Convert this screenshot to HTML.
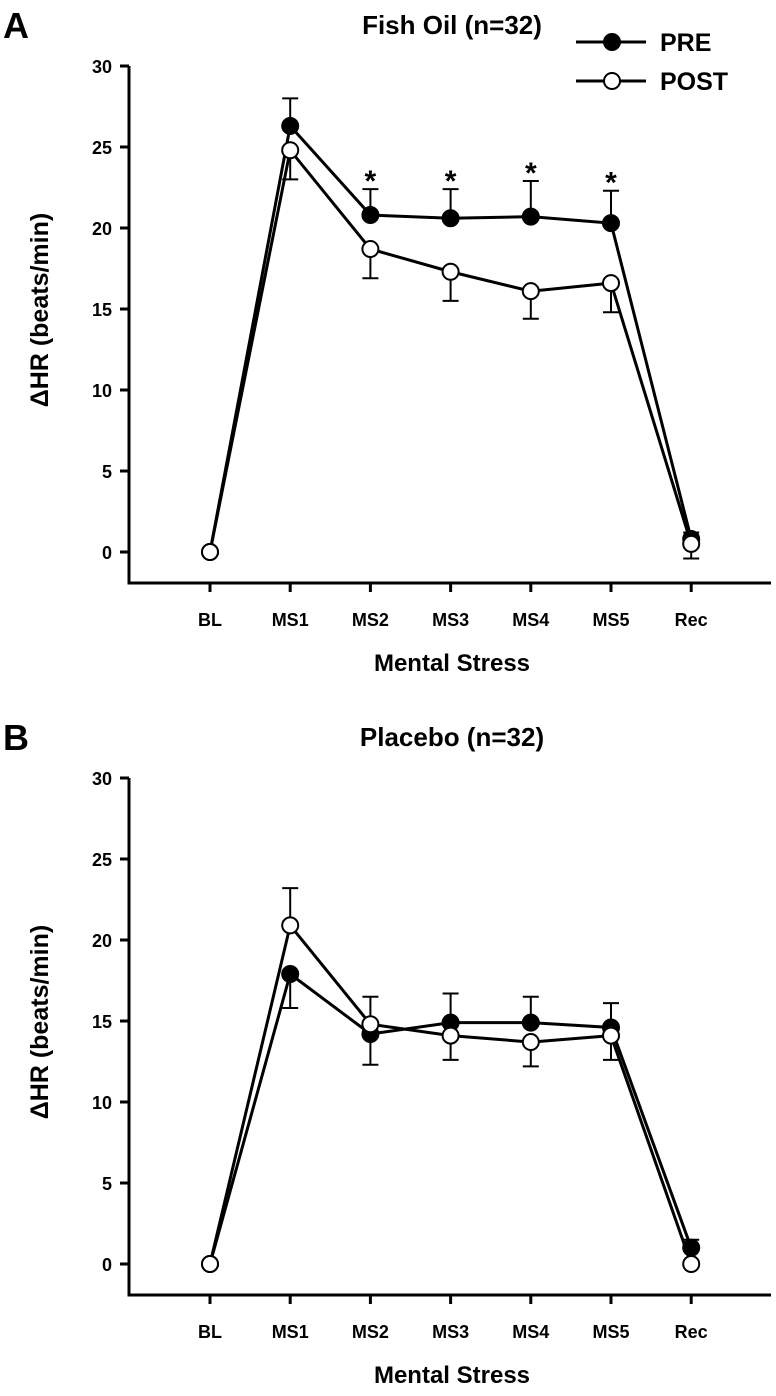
<!DOCTYPE html>
<html><head><meta charset="utf-8"><style>
body{margin:0;background:#fff}
svg{display:block;font-family:"Liberation Sans",Arial,sans-serif;font-weight:bold}
</style></head><body>
<svg id="chart" width="776" height="1396" viewBox="0 0 776 1396"></svg>
<script>
const categories=["BL","MS1","MS2","MS3","MS4","MS5","Rec"];
const yTicks=[0,5,10,15,20,25,30];
const fishPre=[0,26.3,20.8,20.6,20.7,20.3,0.8];
const fishPreErr=[0,1.7,1.6,1.8,2.2,2.0,0.4];
const fishPreDir=[1,1,1,1,1,1,1];
const fishPost=[0,24.8,18.7,17.3,16.1,16.6,0.5];
const fishPostErr=[0,1.8,1.8,1.8,1.7,1.8,0.9];
const fishPostDir=[-1,-1,-1,-1,-1,-1,-1];
const fishStars=[0,0,1,1,1,1,0];
const placPre=[0,17.9,14.2,14.9,14.9,14.6,1.0];
const placPreErr=[0,2.1,1.9,1.8,1.6,1.5,0.5];
const placPreDir=[1,-1,-1,1,1,1,1];
const placPost=[0,20.9,14.8,14.1,13.7,14.1,0.0];
const placPostErr=[0,2.3,1.7,1.5,1.5,1.5,0];
const placPostDir=[-1,1,1,-1,-1,-1,-1];
const placStars=[0,0,0,0,0,0,0];

const svg=document.getElementById('chart');
const NS='http://www.w3.org/2000/svg';
function mk(tag,attrs,parent){const e=document.createElementNS(NS,tag);for(const k in attrs)e.setAttribute(k,attrs[k]);(parent||svg).appendChild(e);return e;}
function panel(off,letter,title,pre,preErr,preDir,post,postErr,postDir,stars,legend){
  const g=mk('g',{});
  
  
  const x=i=>210+i*80.2;
  const y=v=>off+552-v*16.2;
  let t=mk('text',{x:3,y:off+38,'font-size':36},g);t.textContent=letter;
  
  t=mk('text',{x:452,y:off+34,'font-size':26,'text-anchor':'middle'},g);t.textContent=title;
  
  const ax=mk('path',{d:`M129 ${off+66}V${off+583}H771`,stroke:'#000','stroke-width':3,fill:'none'},g);
  
  yTicks.forEach(v=>{
    mk('line',{x1:120,x2:129,y1:y(v),y2:y(v),stroke:'#000','stroke-width':3},g);
    const l=mk('text',{x:112,y:y(v)+7,'font-size':18,'text-anchor':'end'},g);l.textContent=v;
    
  });
  categories.forEach((c,i)=>{
    mk('line',{x1:x(i),x2:x(i),y1:off+583,y2:off+592,stroke:'#000','stroke-width':3},g);
    const l=mk('text',{x:x(i),y:off+626,'font-size':18,'text-anchor':'middle'},g);l.textContent=c;
    
  });
  t=mk('text',{x:452,y:off+671,'font-size':24,'text-anchor':'middle'},g);t.textContent='Mental Stress';
  
  t=mk('text',{x:0,y:0,'font-size':25,'text-anchor':'middle',transform:`translate(48 ${off+310}) rotate(-90)`},g);t.textContent='ΔHR (beats/min)';
  
  function series(vals,err,dir,name){
    vals.forEach((v,i)=>{if(err[i]>0){const ye=y(v+dir[i]*err[i]);
      const e=mk('path',{d:`M${x(i)} ${y(v)}V${ye}M${x(i)-8} ${ye}H${x(i)+8}`,stroke:'#000','stroke-width':2,fill:'none'},g);
      }});
    const p=mk('polyline',{points:vals.map((v,i)=>x(i)+','+y(v)).join(' '),stroke:'#000','stroke-width':3,fill:'none'},g);
    
  }
  function markers(vals,fill,name){
    vals.forEach((v,i)=>{const c=mk('circle',{cx:x(i),cy:y(v),r:8,fill:fill,stroke:'#000','stroke-width':2},g);
      });
  }
  series(pre,preErr,preDir,'pre');series(post,postErr,postDir,'post');
  markers(pre,'#000','pre');markers(post,'#fff','post');
  stars.forEach((s,i)=>{if(s){const st=mk('text',{x:x(i),y:y(pre[i]+preErr[i])+2,'font-size':30,'text-anchor':'middle'},g);st.textContent='*';
    }});
  if(legend){
    [['PRE','#000',off+42],['POST','#fff',off+81]].forEach(([n,f,ly])=>{
      const lg=mk('g',{},g);
      
      mk('line',{x1:576,x2:646,y1:ly,y2:ly,stroke:'#000','stroke-width':3},lg);
      mk('circle',{cx:612,cy:ly,r:8,fill:f,stroke:'#000','stroke-width':2},lg);
      const lt=mk('text',{x:660,y:ly+9,'font-size':25},lg);lt.textContent=n;
    });
  }
}
panel(0,'A','Fish Oil (n=32)',fishPre,fishPreErr,fishPreDir,fishPost,fishPostErr,fishPostDir,fishStars,true);
panel(712,'B','Placebo (n=32)',placPre,placPreErr,placPreDir,placPost,placPostErr,placPostDir,placStars,false);
</script>
</body></html>
